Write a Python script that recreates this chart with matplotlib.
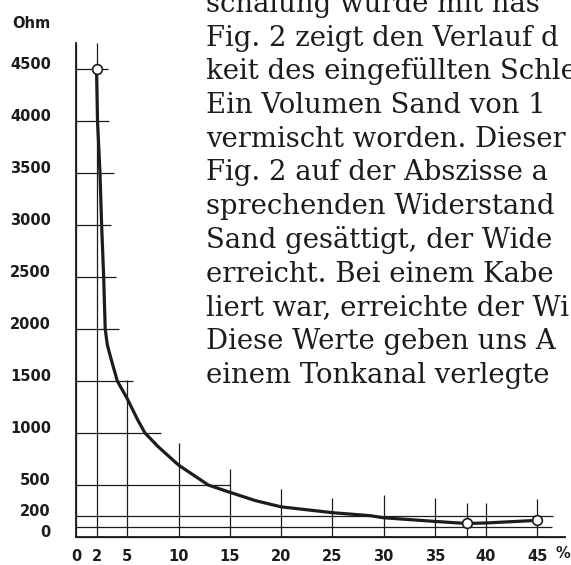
import matplotlib.pyplot as plt

# Widerstandskurve (Ohm) ueber Sandanteil (%)
pct = [2, 2.1, 2.34, 2.5, 2.7, 2.85, 3.05, 3.4, 4.03, 5, 6, 6.73, 8, 10, 12.9,
       15, 17.5, 20, 25, 28.7, 30, 35, 38.1, 40, 45]
ohm = [4500, 4000, 3500, 3000, 2500, 2000, 1850, 1720, 1500, 1330, 1130, 1000,
       870, 692, 500, 430, 350, 290, 234, 205, 185, 150, 130, 135, 160]

# Messpunkte (offene Kreise)
mess_pct = [2, 38.1, 45]
mess_ohm = [4500, 130, 160]

# Gitter: waagrechte Linien (Hoehe, Ende in %) und senkrechte Linien (Lage, Oberkante in Ohm)
h_levels = [4500, 4000, 3500, 3000, 2500, 2000, 1500, 1000, 500, 200, 100, 0]
h_ends = [3.1, 3.2, 3.7, 3.4, 3.9, 4.2, 5.6, 8.3, 15.0, 46.5, 46.4, 47.7]
v_pos = [0, 2, 5, 10, 15, 20, 25, 30, 35, 38.1, 40, 45]
v_tops = [4750, 4750, 1510, 900, 650, 465, 372, 404, 372, 330, 330, 362]

y_ticks = [4500, 4000, 3500, 3000, 2500, 2000, 1500, 1000, 500, 200, 0]
x_ticks = [0, 2, 5, 10, 15, 20, 25, 30, 35, 40, 45]

# Fliesstext rechts, am Bildrand abgeschnitten wie im Scan
text_lines = [
    "schalung wurde mit nas",
    "Fig. 2 zeigt den Verlauf d",
    "keit des eingefüllten Schle",
    "Ein Volumen Sand von 1",
    "vermischt worden. Dieser",
    "Fig. 2 auf der Abszisse a",
    "sprechenden Widerstand",
    "Sand gesättigt, der Wide",
    "erreicht. Bei einem Kabe",
    "liert war, erreichte der Wi",
    "Diese Werte geben uns A",
    "einem Tonkanal verlegte",
]

ink = '#1c1c1c'
fig = plt.figure(figsize=(5.71, 5.65), dpi=100)
ax = fig.add_axes([0, 0, 1, 1])
ax.set_xlim(-76 / 10.25, (571 - 76) / 10.25)
ax.set_ylim((537 - 565) / 0.104, 537 / 0.104)
ax.axis('off')

ax.hlines(h_levels, 0, h_ends, color=ink, lw=0.9)
ax.vlines(v_pos, 0, v_tops, color=ink, lw=0.9)
ax.plot([0, 0], [0, 4750], color=ink, lw=1.3)
ax.plot([0, 47.7], [0, 0], color=ink, lw=1.3)

ax.plot(pct, ohm, color=ink, lw=2.3, solid_capstyle='round', solid_joinstyle='round')
ax.plot(mess_pct, mess_ohm, 'o', ms=7, mfc='white', mec=ink, mew=1.2)

for v in y_ticks:
    ax.text(-2.44, v + 45, str(v), ha='right', va='center', fontsize=10.5,
            fontweight='bold', color=ink)
ax.text(-2.44, 4933, 'Ohm', ha='right', va='center', fontsize=10.5,
        fontweight='bold', color=ink)
for v in x_ticks:
    ax.text(v, -183, str(v), ha='center', va='center', fontsize=10.5,
            fontweight='bold', color=ink)
ax.text(47.5, -154, '%', ha='center', va='center', fontsize=10.5,
        fontweight='bold', color=ink)

for i, line in enumerate(text_lines):
    base = 12 + 33.7 * i
    fig.text(206 / 571, 1 - base / 565, line, ha='left', va='baseline',
             fontsize=19.8, family='DejaVu Serif', color=ink)

plt.savefig('out.png', dpi=100)
